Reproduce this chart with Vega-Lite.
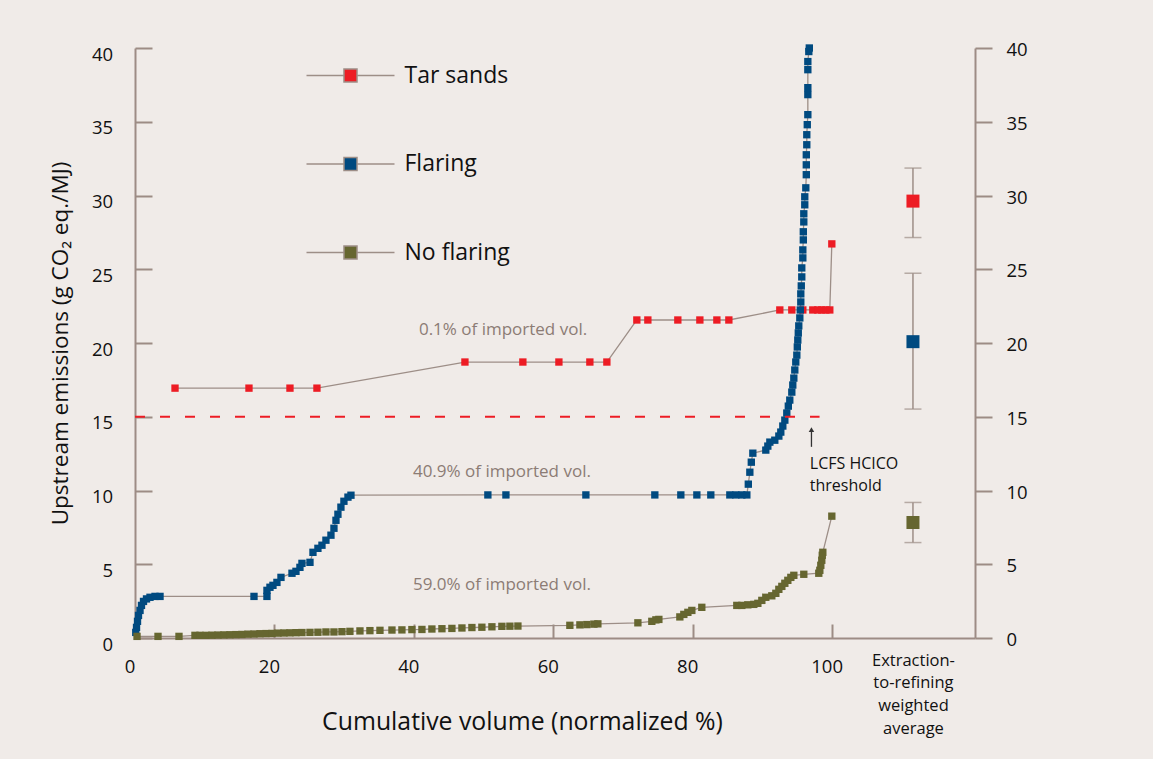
{
  "$schema": "https://vega.github.io/schema/vega-lite/v6.json",
  "width": 840,
  "height": 590,
  "autosize": {"type": "none"},
  "padding": {"left": 135, "top": 48, "right": 178, "bottom": 121},
  "background": "#f0ebe8",
  "config": {"font": "Open Sans", "view": {"stroke": null}, "axis": {"grid": false}},
  "datasets": {
    "pts": [
      {"series": "Tar sands", "x": 5.74, "y": 16.94},
      {"series": "Tar sands", "x": 16.35, "y": 16.94},
      {"series": "Tar sands", "x": 22.23, "y": 16.94},
      {"series": "Tar sands", "x": 26.10, "y": 16.94},
      {"series": "Tar sands", "x": 47.33, "y": 18.71},
      {"series": "Tar sands", "x": 55.64, "y": 18.71},
      {"series": "Tar sands", "x": 60.81, "y": 18.71},
      {"series": "Tar sands", "x": 65.25, "y": 18.71},
      {"series": "Tar sands", "x": 67.69, "y": 18.71},
      {"series": "Tar sands", "x": 71.99, "y": 21.56},
      {"series": "Tar sands", "x": 73.57, "y": 21.56},
      {"series": "Tar sands", "x": 77.87, "y": 21.56},
      {"series": "Tar sands", "x": 81.03, "y": 21.56},
      {"series": "Tar sands", "x": 83.47, "y": 21.56},
      {"series": "Tar sands", "x": 85.19, "y": 21.56},
      {"series": "Tar sands", "x": 92.50, "y": 22.24},
      {"series": "Tar sands", "x": 94.22, "y": 22.24},
      {"series": "Tar sands", "x": 95.80, "y": 22.24},
      {"series": "Tar sands", "x": 97.23, "y": 22.24},
      {"series": "Tar sands", "x": 97.95, "y": 22.24},
      {"series": "Tar sands", "x": 98.52, "y": 22.24},
      {"series": "Tar sands", "x": 99.10, "y": 22.24},
      {"series": "Tar sands", "x": 99.67, "y": 22.24},
      {"series": "Tar sands", "x": 99.96, "y": 26.72},
      {"series": "Flaring", "x": 0.11, "y": 0.38},
      {"series": "Flaring", "x": 0.22, "y": 0.72},
      {"series": "Flaring", "x": 0.36, "y": 1.13},
      {"series": "Flaring", "x": 0.50, "y": 1.53},
      {"series": "Flaring", "x": 0.72, "y": 1.87},
      {"series": "Flaring", "x": 0.93, "y": 2.21},
      {"series": "Flaring", "x": 1.22, "y": 2.48},
      {"series": "Flaring", "x": 1.65, "y": 2.65},
      {"series": "Flaring", "x": 2.15, "y": 2.76},
      {"series": "Flaring", "x": 2.87, "y": 2.82},
      {"series": "Flaring", "x": 3.59, "y": 2.82},
      {"series": "Flaring", "x": 17.07, "y": 2.82},
      {"series": "Flaring", "x": 18.93, "y": 2.82},
      {"series": "Flaring", "x": 18.93, "y": 3.23},
      {"series": "Flaring", "x": 19.36, "y": 3.44},
      {"series": "Flaring", "x": 19.79, "y": 3.57},
      {"series": "Flaring", "x": 20.36, "y": 3.77},
      {"series": "Flaring", "x": 20.94, "y": 4.11},
      {"series": "Flaring", "x": 22.52, "y": 4.39},
      {"series": "Flaring", "x": 23.09, "y": 4.52},
      {"series": "Flaring", "x": 23.66, "y": 4.79},
      {"series": "Flaring", "x": 23.95, "y": 5.06},
      {"series": "Flaring", "x": 25.10, "y": 5.13},
      {"series": "Flaring", "x": 25.53, "y": 5.81},
      {"series": "Flaring", "x": 26.24, "y": 6.08},
      {"series": "Flaring", "x": 26.82, "y": 6.29},
      {"series": "Flaring", "x": 27.39, "y": 6.63},
      {"series": "Flaring", "x": 28.11, "y": 6.97},
      {"series": "Flaring", "x": 28.54, "y": 7.44},
      {"series": "Flaring", "x": 28.83, "y": 7.98},
      {"series": "Flaring", "x": 29.11, "y": 8.39},
      {"series": "Flaring", "x": 29.54, "y": 8.87},
      {"series": "Flaring", "x": 29.97, "y": 9.27},
      {"series": "Flaring", "x": 30.55, "y": 9.55},
      {"series": "Flaring", "x": 30.98, "y": 9.68},
      {"series": "Flaring", "x": 50.62, "y": 9.70},
      {"series": "Flaring", "x": 53.21, "y": 9.70},
      {"series": "Flaring", "x": 64.68, "y": 9.70},
      {"series": "Flaring", "x": 74.57, "y": 9.70},
      {"series": "Flaring", "x": 78.30, "y": 9.70},
      {"series": "Flaring", "x": 80.60, "y": 9.70},
      {"series": "Flaring", "x": 82.60, "y": 9.70},
      {"series": "Flaring", "x": 85.33, "y": 9.70},
      {"series": "Flaring", "x": 86.19, "y": 9.70},
      {"series": "Flaring", "x": 87.05, "y": 9.70},
      {"series": "Flaring", "x": 87.77, "y": 9.70},
      {"series": "Flaring", "x": 87.98, "y": 10.43},
      {"series": "Flaring", "x": 88.20, "y": 11.24},
      {"series": "Flaring", "x": 88.41, "y": 11.92},
      {"series": "Flaring", "x": 88.63, "y": 12.53},
      {"series": "Flaring", "x": 90.49, "y": 12.74},
      {"series": "Flaring", "x": 90.78, "y": 13.01},
      {"series": "Flaring", "x": 91.07, "y": 13.28},
      {"series": "Flaring", "x": 91.78, "y": 13.41},
      {"series": "Flaring", "x": 92.36, "y": 13.69},
      {"series": "Flaring", "x": 92.64, "y": 13.96},
      {"series": "Flaring", "x": 92.93, "y": 14.37},
      {"series": "Flaring", "x": 93.22, "y": 14.77},
      {"series": "Flaring", "x": 93.50, "y": 15.25},
      {"series": "Flaring", "x": 93.72, "y": 15.72},
      {"series": "Flaring", "x": 93.93, "y": 16.13},
      {"series": "Flaring", "x": 94.22, "y": 16.67},
      {"series": "Flaring", "x": 94.36, "y": 17.15},
      {"series": "Flaring", "x": 94.51, "y": 17.62},
      {"series": "Flaring", "x": 94.65, "y": 18.17},
      {"series": "Flaring", "x": 94.79, "y": 18.71},
      {"series": "Flaring", "x": 94.94, "y": 19.18},
      {"series": "Flaring", "x": 95.01, "y": 19.73},
      {"series": "Flaring", "x": 95.08, "y": 20.20},
      {"series": "Flaring", "x": 95.15, "y": 20.68},
      {"series": "Flaring", "x": 95.22, "y": 21.16},
      {"series": "Flaring", "x": 95.37, "y": 21.70},
      {"series": "Flaring", "x": 95.44, "y": 22.24},
      {"series": "Flaring", "x": 95.51, "y": 22.78},
      {"series": "Flaring", "x": 95.51, "y": 23.33},
      {"series": "Flaring", "x": 95.58, "y": 23.87},
      {"series": "Flaring", "x": 95.65, "y": 24.48},
      {"series": "Flaring", "x": 95.65, "y": 25.09},
      {"series": "Flaring", "x": 95.80, "y": 25.77},
      {"series": "Flaring", "x": 95.80, "y": 26.31},
      {"series": "Flaring", "x": 95.87, "y": 26.99},
      {"series": "Flaring", "x": 95.87, "y": 27.54},
      {"series": "Flaring", "x": 95.94, "y": 28.21},
      {"series": "Flaring", "x": 95.94, "y": 28.76},
      {"series": "Flaring", "x": 96.08, "y": 29.37},
      {"series": "Flaring", "x": 96.08, "y": 29.91},
      {"series": "Flaring", "x": 96.23, "y": 30.52},
      {"series": "Flaring", "x": 96.30, "y": 31.41},
      {"series": "Flaring", "x": 96.30, "y": 32.08},
      {"series": "Flaring", "x": 96.30, "y": 32.76},
      {"series": "Flaring", "x": 96.37, "y": 33.44},
      {"series": "Flaring", "x": 96.37, "y": 34.12},
      {"series": "Flaring", "x": 96.44, "y": 34.80},
      {"series": "Flaring", "x": 96.52, "y": 35.48},
      {"series": "Flaring", "x": 96.52, "y": 36.84},
      {"series": "Flaring", "x": 96.52, "y": 37.31},
      {"series": "Flaring", "x": 96.52, "y": 38.53},
      {"series": "Flaring", "x": 96.52, "y": 39.08},
      {"series": "Flaring", "x": 96.66, "y": 39.76},
      {"series": "Flaring", "x": 96.73, "y": 40.0},
      {"series": "No flaring", "x": 0.29, "y": 0.11},
      {"series": "No flaring", "x": 3.30, "y": 0.11},
      {"series": "No flaring", "x": 6.31, "y": 0.11},
      {"series": "No flaring", "x": 8.60, "y": 0.18},
      {"series": "No flaring", "x": 9.32, "y": 0.18},
      {"series": "No flaring", "x": 10.18, "y": 0.18},
      {"series": "No flaring", "x": 11.04, "y": 0.19},
      {"series": "No flaring", "x": 11.90, "y": 0.20},
      {"series": "No flaring", "x": 12.76, "y": 0.21},
      {"series": "No flaring", "x": 13.62, "y": 0.22},
      {"series": "No flaring", "x": 14.48, "y": 0.23},
      {"series": "No flaring", "x": 15.34, "y": 0.24},
      {"series": "No flaring", "x": 16.20, "y": 0.26},
      {"series": "No flaring", "x": 17.07, "y": 0.27},
      {"series": "No flaring", "x": 17.93, "y": 0.29},
      {"series": "No flaring", "x": 18.79, "y": 0.30},
      {"series": "No flaring", "x": 19.65, "y": 0.31},
      {"series": "No flaring", "x": 20.51, "y": 0.33},
      {"series": "No flaring", "x": 21.37, "y": 0.34},
      {"series": "No flaring", "x": 22.23, "y": 0.35},
      {"series": "No flaring", "x": 23.09, "y": 0.36},
      {"series": "No flaring", "x": 23.95, "y": 0.37},
      {"series": "No flaring", "x": 25.10, "y": 0.38},
      {"series": "No flaring", "x": 26.24, "y": 0.39},
      {"series": "No flaring", "x": 27.39, "y": 0.41},
      {"series": "No flaring", "x": 28.54, "y": 0.41},
      {"series": "No flaring", "x": 29.69, "y": 0.43},
      {"series": "No flaring", "x": 30.83, "y": 0.45},
      {"series": "No flaring", "x": 32.27, "y": 0.48},
      {"series": "No flaring", "x": 33.70, "y": 0.50},
      {"series": "No flaring", "x": 35.14, "y": 0.52},
      {"series": "No flaring", "x": 36.86, "y": 0.54},
      {"series": "No flaring", "x": 38.29, "y": 0.55},
      {"series": "No flaring", "x": 39.72, "y": 0.57},
      {"series": "No flaring", "x": 41.16, "y": 0.58},
      {"series": "No flaring", "x": 42.59, "y": 0.61},
      {"series": "No flaring", "x": 44.03, "y": 0.63},
      {"series": "No flaring", "x": 45.46, "y": 0.65},
      {"series": "No flaring", "x": 46.90, "y": 0.68},
      {"series": "No flaring", "x": 48.33, "y": 0.71},
      {"series": "No flaring", "x": 49.76, "y": 0.73},
      {"series": "No flaring", "x": 51.20, "y": 0.76},
      {"series": "No flaring", "x": 52.63, "y": 0.79},
      {"series": "No flaring", "x": 53.78, "y": 0.80},
      {"series": "No flaring", "x": 54.93, "y": 0.81},
      {"series": "No flaring", "x": 62.38, "y": 0.86},
      {"series": "No flaring", "x": 63.82, "y": 0.89},
      {"series": "No flaring", "x": 64.82, "y": 0.91},
      {"series": "No flaring", "x": 65.83, "y": 0.94},
      {"series": "No flaring", "x": 66.40, "y": 0.96},
      {"series": "No flaring", "x": 72.14, "y": 1.03},
      {"series": "No flaring", "x": 74.14, "y": 1.13},
      {"series": "No flaring", "x": 74.72, "y": 1.23},
      {"series": "No flaring", "x": 75.15, "y": 1.26},
      {"series": "No flaring", "x": 78.16, "y": 1.43},
      {"series": "No flaring", "x": 78.73, "y": 1.60},
      {"series": "No flaring", "x": 79.31, "y": 1.74},
      {"series": "No flaring", "x": 79.88, "y": 1.87},
      {"series": "No flaring", "x": 81.31, "y": 2.08},
      {"series": "No flaring", "x": 86.33, "y": 2.21},
      {"series": "No flaring", "x": 87.05, "y": 2.21},
      {"series": "No flaring", "x": 87.91, "y": 2.25},
      {"series": "No flaring", "x": 88.77, "y": 2.28},
      {"series": "No flaring", "x": 89.35, "y": 2.35},
      {"series": "No flaring", "x": 89.92, "y": 2.55},
      {"series": "No flaring", "x": 90.49, "y": 2.76},
      {"series": "No flaring", "x": 91.35, "y": 2.86},
      {"series": "No flaring", "x": 91.93, "y": 3.03},
      {"series": "No flaring", "x": 92.36, "y": 3.30},
      {"series": "No flaring", "x": 92.79, "y": 3.50},
      {"series": "No flaring", "x": 93.22, "y": 3.71},
      {"series": "No flaring", "x": 93.65, "y": 3.91},
      {"series": "No flaring", "x": 94.08, "y": 4.11},
      {"series": "No flaring", "x": 94.51, "y": 4.25},
      {"series": "No flaring", "x": 95.94, "y": 4.32},
      {"series": "No flaring", "x": 98.09, "y": 4.39},
      {"series": "No flaring", "x": 98.24, "y": 4.59},
      {"series": "No flaring", "x": 98.38, "y": 4.93},
      {"series": "No flaring", "x": 98.52, "y": 5.27},
      {"series": "No flaring", "x": 98.59, "y": 5.61},
      {"series": "No flaring", "x": 98.67, "y": 5.81},
      {"series": "No flaring", "x": 99.96, "y": 8.26}
    ],
    "err": [
      {"series": "Tar sands", "x": 111.6, "y": 29.62, "lo": 27.15, "hi": 31.86},
      {"series": "Flaring", "x": 111.6, "y": 20.09, "lo": 15.52, "hi": 24.73},
      {"series": "No flaring", "x": 111.6, "y": 7.83, "lo": 6.47, "hi": 9.19}
    ],
    "greynotes": [
      {"label": "0.1% of imported vol.", "x": 40.73, "y": 20.88},
      {"label": "40.9% of imported vol.", "x": 39.87, "y": 11.26},
      {"label": "59.0% of imported vol.", "x": 39.87, "y": 3.57}
    ],
    "blacknotes": [
      {"label": "LCFS HCICO\nthreshold", "x": 96.8, "y": 11.83}
    ],
    "threshold": [{"x": 0, "x2": 98.2, "y": 15}],
    "arrow": [{"x": 97.04, "y": 12.96, "y2": 14.1}],
    "arrowhead": [{"x": 97.04, "y": 14.12}]
  },
  "layer": [
    {
      "data": {"name": "pts"},
      "mark": {"type": "line", "color": "#9d8e87", "strokeWidth": 1.3},
      "encoding": {
        "x": {
          "field": "x", "type": "quantitative",
          "scale": {"domain": [0, 120.5], "nice": false, "zero": false},
          "axis": {
            "values": [0, 20, 40, 60, 80, 100, 111.6],
            "title": "Cumulative volume (normalized %)",
            "titleFont": "Open Sans", "titleFontSize": 24.8, "titleFontWeight": "normal", "titleColor": "#111111",
            "titleX": 387, "titleY": 91.5, "titleAlign": "center", "titleBaseline": "alphabetic",
            "domainColor": "#9d8c85", "domainWidth": 2,
            "tickColor": "#9d8c85", "tickWidth": 2, "tickSize": -14,
            "tickOpacity": {"condition": {"test": "datum.value > 110", "value": 0}, "value": 1},
            "labelExpr": "datum.value > 110 ? ['Extraction-', 'to-refining', 'weighted', 'average'] : datum.label",
            "labelFont": "Open Sans",
            "labelFontSize": {"condition": {"test": "datum.value > 110", "value": 16.5}, "value": 18.5},
            "labelOffset": {"condition": {"test": "datum.value > 110", "value": 0}, "value": -5.5},
            "labelPadding": {"condition": {"test": "datum.value > 110", "value": 28}, "value": 33.5},
            "labelColor": "#111111",
            "labelBaseline": "top",
            "labelLineHeight": 22.7,
            "labelOverlap": false, "labelFlush": false, "labelBound": false,
            "grid": false
          }
        },
        "y": {
          "field": "y", "type": "quantitative",
          "scale": {"domain": [0, 40], "nice": false, "zero": false},
          "axis": {
            "orient": "left",
            "values": [0, 5, 10, 15, 20, 25, 30, 35, 40],
            "title": "Upstream emissions (g CO₂ eq./MJ)",
            "titleFont": "Open Sans", "titleFontSize": 22.5, "titleFontWeight": "normal", "titleColor": "#111111",
            "titleX": -68, "titleY": 295, "titleAngle": -90, "titleAlign": "center", "titleBaseline": "alphabetic",
            "domainColor": "#9d8c85", "domainWidth": 2,
            "tickColor": "#9d8c85", "tickWidth": 2, "tickSize": -17,
            "labelFont": "Open Sans", "labelFontSize": 18.5, "labelColor": "#111111",
            "labelPadding": 39.3, "labelOffset": 6, "labelBaseline": "middle",
            "labelOverlap": false, "labelFlush": false, "labelBound": false,
            "grid": false
          }
        },
        "detail": {"field": "series", "type": "nominal"},
        "order": {"value": null}
      }
    },
    {
      "data": {"name": "pts"},
      "mark": {"type": "square", "size": 54, "opacity": 1},
      "encoding": {
        "x": {"field": "x", "type": "quantitative", "scale": {"domain": [0, 120.5], "nice": false, "zero": false}},
        "y": {"field": "y", "type": "quantitative", "scale": {"domain": [0, 40], "nice": false, "zero": false}, "axis": null},
        "color": {
          "field": "series", "type": "nominal",
          "scale": {"domain": ["Tar sands", "Flaring", "No flaring"], "range": ["#ed1c24", "#004a80", "#666630"]},
          "legend": {
            "title": null, "orient": "none", "legendX": 170.5, "legendY": -17.5,
            "symbolType": "M-1,0H-0.148M0.148,0H1M-0.148,-0.148H0.148V0.148H-0.148Z",
            "symbolSize": 7744, "symbolStrokeColor": "#9d8e87", "symbolStrokeWidth": 1.5, "symbolOpacity": 1,
            "labelFont": "Open Sans", "labelFontSize": 23, "labelColor": "#111111", "labelOffset": 9,
            "rowPadding": 31.5, "padding": 0
          }
        }
      }
    },
    {
      "data": {"name": "threshold"},
      "mark": {"type": "rule", "color": "#ed1c24", "strokeWidth": 2, "strokeDash": [10, 15]},
      "encoding": {
        "x": {"field": "x", "type": "quantitative", "scale": {"domain": [0, 120.5], "nice": false, "zero": false}},
        "x2": {"field": "x2"},
        "y": {"field": "y", "type": "quantitative", "scale": {"domain": [0, 40], "nice": false, "zero": false}, "axis": null}
      }
    },
    {
      "data": {"name": "err"},
      "mark": {"type": "rule", "color": "#9d8e87", "strokeWidth": 1.5},
      "encoding": {
        "x": {"field": "x", "type": "quantitative", "scale": {"domain": [0, 120.5], "nice": false, "zero": false}},
        "y": {
          "field": "lo", "type": "quantitative",
          "scale": {"domain": [0, 40], "nice": false, "zero": false},
          "axis": {
            "orient": "right", "title": null,
            "values": [0, 5, 10, 15, 20, 25, 30, 35, 40],
            "domainColor": "#9d8c85", "domainWidth": 2,
            "tickColor": "#9d8c85", "tickWidth": 2, "tickSize": 17,
            "labelFont": "Open Sans", "labelFontSize": 18.5, "labelColor": "#111111",
            "labelPadding": 14, "labelOffset": 1.5, "labelBaseline": "middle",
            "labelOverlap": false, "labelFlush": false, "labelBound": false,
            "grid": false
          }
        },
        "y2": {"field": "hi"}
      }
    },
    {
      "data": {"name": "err"},
      "mark": {"type": "tick", "orient": "horizontal", "color": "#9d8e87", "thickness": 1.5, "size": 17},
      "encoding": {
        "x": {"field": "x", "type": "quantitative", "scale": {"domain": [0, 120.5], "nice": false, "zero": false}},
        "y": {"field": "lo", "type": "quantitative", "scale": {"domain": [0, 40], "nice": false, "zero": false}, "axis": null}
      }
    },
    {
      "data": {"name": "err"},
      "mark": {"type": "tick", "orient": "horizontal", "color": "#9d8e87", "thickness": 1.5, "size": 17},
      "encoding": {
        "x": {"field": "x", "type": "quantitative", "scale": {"domain": [0, 120.5], "nice": false, "zero": false}},
        "y": {"field": "hi", "type": "quantitative", "scale": {"domain": [0, 40], "nice": false, "zero": false}, "axis": null}
      }
    },
    {
      "data": {"name": "err"},
      "mark": {"type": "square", "size": 169, "opacity": 1},
      "encoding": {
        "x": {"field": "x", "type": "quantitative", "scale": {"domain": [0, 120.5], "nice": false, "zero": false}},
        "y": {"field": "y", "type": "quantitative", "scale": {"domain": [0, 40], "nice": false, "zero": false}, "axis": null},
        "color": {"field": "series", "type": "nominal", "legend": null}
      }
    },
    {
      "data": {"name": "greynotes"},
      "mark": {"type": "text", "align": "left", "baseline": "middle", "font": "Open Sans", "fontSize": 17, "color": "#8c7c75"},
      "encoding": {
        "x": {"field": "x", "type": "quantitative", "scale": {"domain": [0, 120.5], "nice": false, "zero": false}},
        "y": {"field": "y", "type": "quantitative", "scale": {"domain": [0, 40], "nice": false, "zero": false}, "axis": null},
        "text": {"field": "label"}
      }
    },
    {
      "data": {"name": "blacknotes"},
      "mark": {"type": "text", "align": "left", "baseline": "middle", "font": "Open Sans", "fontSize": 16, "color": "#111111", "lineBreak": "\n", "lineHeight": 22},
      "encoding": {
        "x": {"field": "x", "type": "quantitative", "scale": {"domain": [0, 120.5], "nice": false, "zero": false}},
        "y": {"field": "y", "type": "quantitative", "scale": {"domain": [0, 40], "nice": false, "zero": false}, "axis": null},
        "text": {"field": "label"}
      }
    },
    {
      "data": {"name": "arrow"},
      "mark": {"type": "rule", "color": "#333333", "strokeWidth": 1.3},
      "encoding": {
        "x": {"field": "x", "type": "quantitative", "scale": {"domain": [0, 120.5], "nice": false, "zero": false}},
        "y": {"field": "y", "type": "quantitative", "scale": {"domain": [0, 40], "nice": false, "zero": false}, "axis": null},
        "y2": {"field": "y2"}
      }
    },
    {
      "data": {"name": "arrowhead"},
      "mark": {"type": "point", "shape": "triangle-up", "size": 30, "filled": true, "color": "#333333", "opacity": 1},
      "encoding": {
        "x": {"field": "x", "type": "quantitative", "scale": {"domain": [0, 120.5], "nice": false, "zero": false}},
        "y": {"field": "y", "type": "quantitative", "scale": {"domain": [0, 40], "nice": false, "zero": false}, "axis": null}
      }
    }
  ],
  "resolve": {"axis": {"y": "independent"}}
}
